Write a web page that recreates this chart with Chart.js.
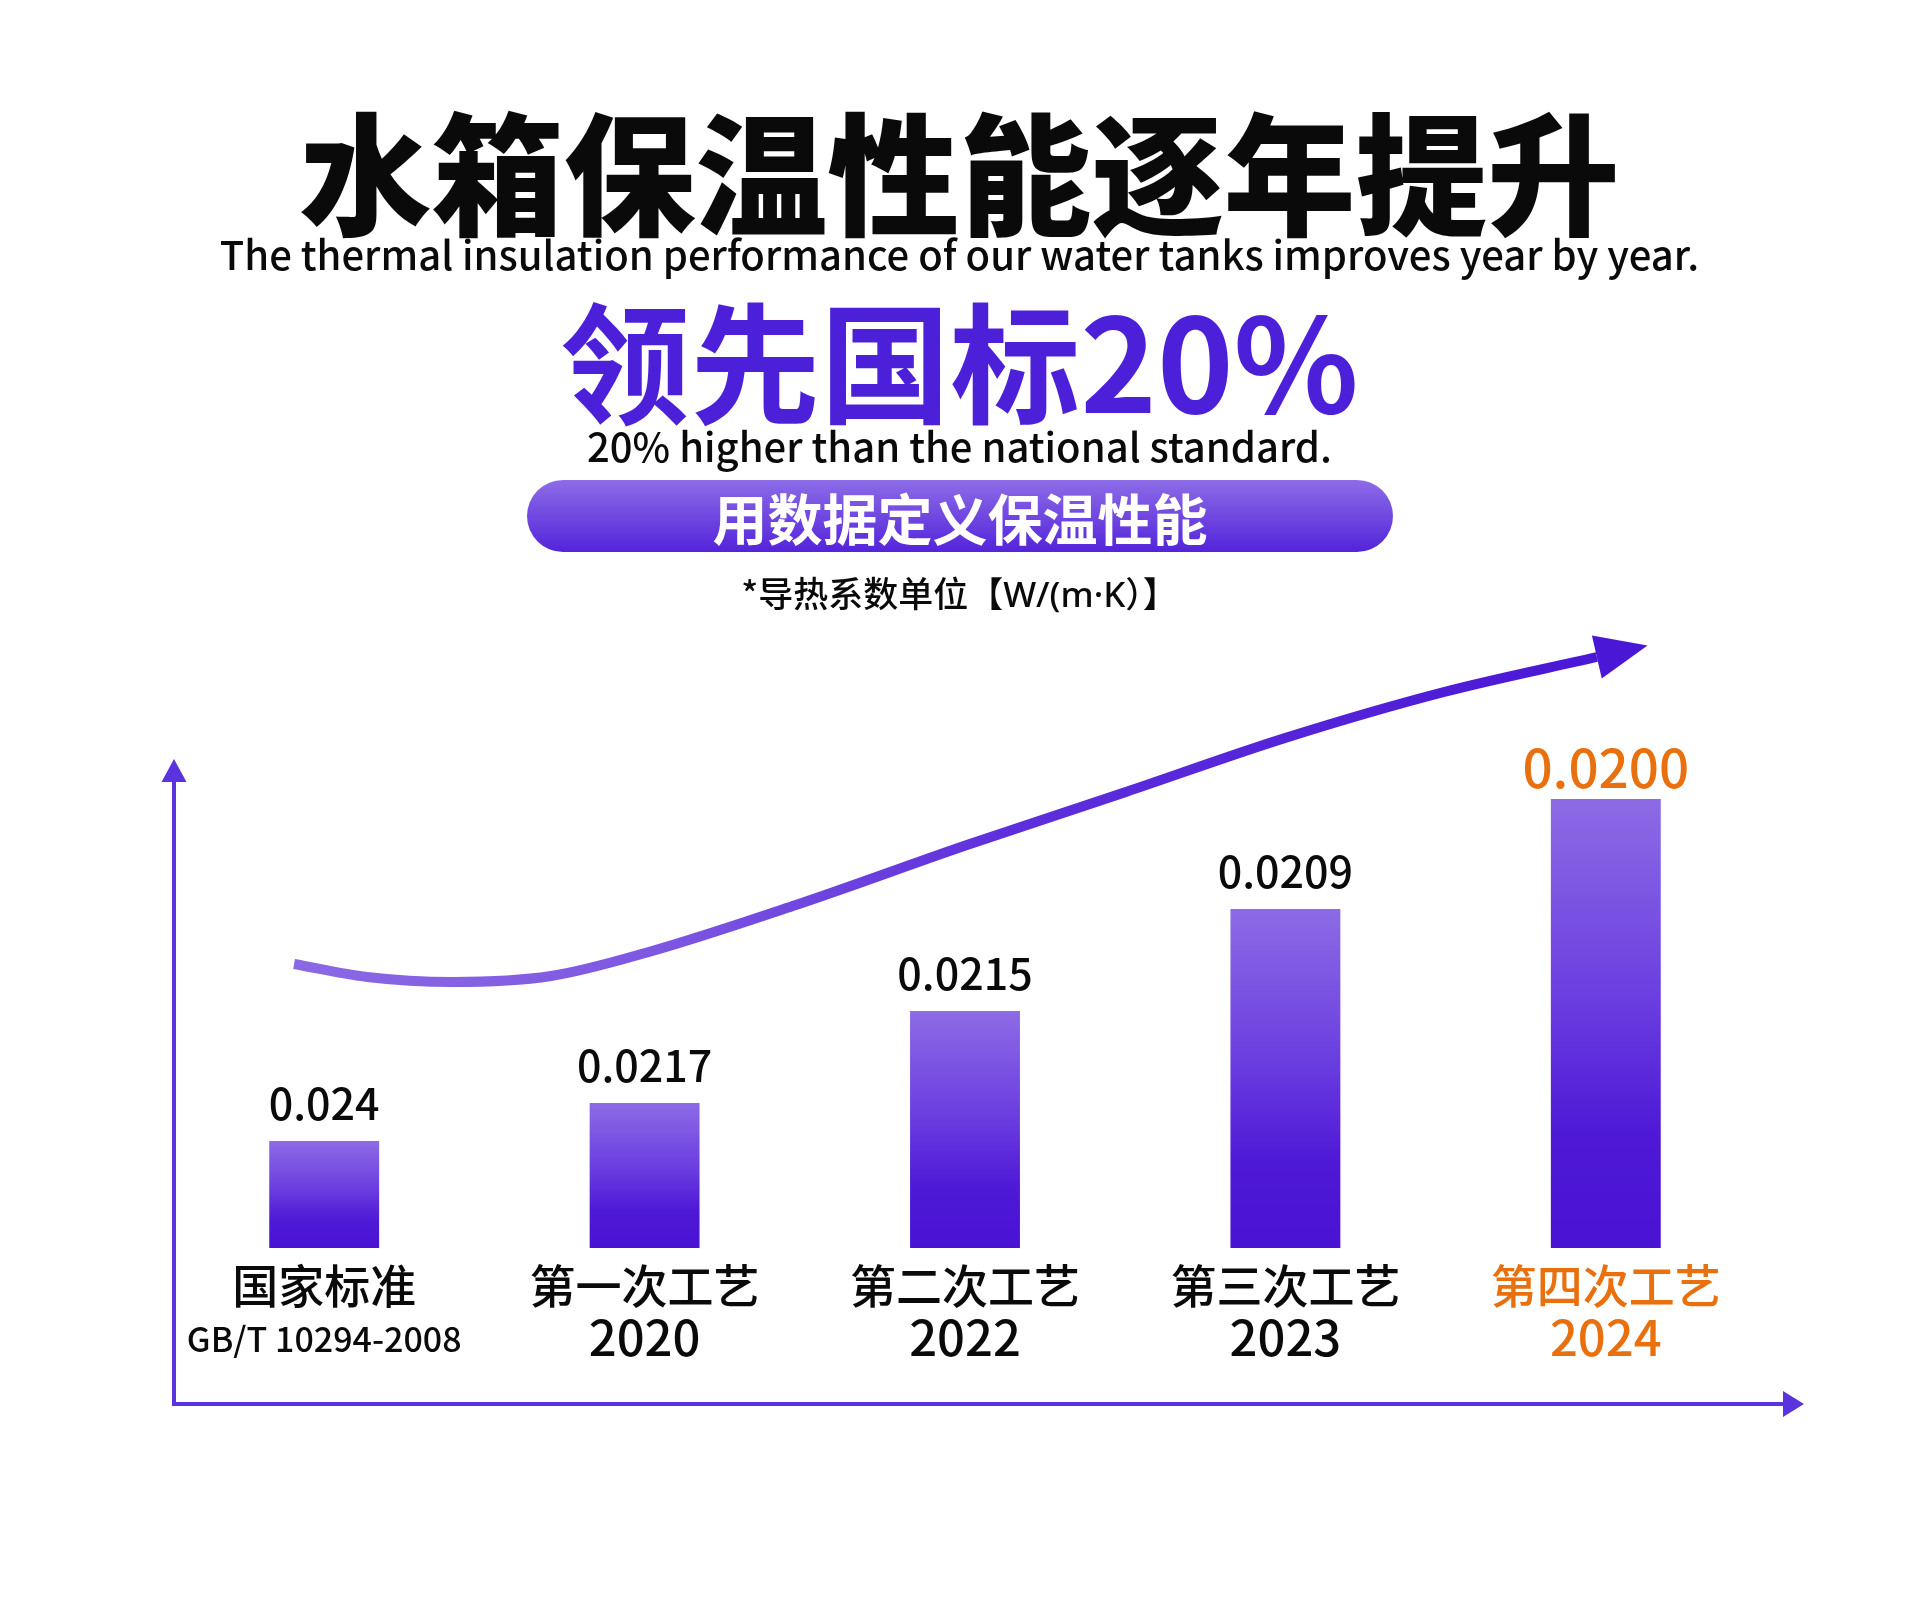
<!DOCTYPE html>
<html lang="zh-CN">
<head>
<meta charset="utf-8">
<title>水箱保温性能逐年提升</title>
<script src="https://cdn.jsdelivr.net/npm/chart.js@4.4.1/dist/chart.umd.min.js"></script>
<style>
  html, body { margin: 0; padding: 0; background: #fff; }
  body {
    width: 1919px; height: 1601px; position: relative; overflow: hidden;
    font-family: "Noto Sans CJK SC", "Noto Sans", sans-serif; color: #0a0a0a;
  }
  #chart { position: absolute; left: 0; top: 0; }
  .row { position: absolute; left: 0; width: 1919px; text-align: center; line-height: 1; white-space: nowrap; }
  #title { top: 102px; font-size: 132px; font-weight: 900; }
  #subtitle { top: 233px; font-size: 40px; font-weight: 500; }
  #lead { top: 291px; font-size: 130px; font-weight: 700; color: #4c1fd8; }
  #leadEn { top: 425px; font-size: 40px; font-weight: 500; }
  #pill {
    position: absolute; left: 527px; top: 480px; width: 866px; height: 72px;
    border-radius: 36px; background: linear-gradient(#8d6ce7, #5324da);
    color: #fff; font-size: 55px; font-weight: 700; line-height: 1;
    display: flex; align-items: center; justify-content: center;
  }
  #unit { top: 574px; font-size: 35px; font-weight: 500; }
  #unit span { font-family: "Noto Sans", sans-serif; }
</style>
</head>
<body>
<canvas id="chart" width="1919" height="1601"></canvas>
<div class="row" id="title">水箱保温性能逐年提升</div>
<div class="row" id="subtitle">The thermal insulation performance of our water tanks improves year by year.</div>
<div class="row" id="lead">领先国标20%</div>
<div class="row" id="leadEn">20% higher than the national standard.</div>
<div id="pill">用数据定义保温性能</div>
<div class="row" id="unit">*导热系数单位【<span>W/(m·K</span>）】</div>
<script>
const categoryNames = ["国家标准", "第一次工艺", "第二次工艺", "第三次工艺", "第四次工艺"];
const categorySubs = ["GB/T 10294-2008", "2020", "2022", "2023", "2024"];
// thermal conductivity shown above each bar
const conductivity = ["0.024", "0.0217", "0.0215", "0.0209", "0.0200"];
// bar heights as drawn (insulation level, arbitrary units)
const barLevels = [1.07, 1.45, 2.37, 3.39, 4.49];
// rising trend curve, x in category positions
const trendX = [-0.094, 0.134, 0.402, 0.708, 1.013, 1.472, 2.006, 2.502, 2.999, 3.495, 3.972];
const trendY = [2.84, 2.71, 2.66, 2.72, 2.96, 3.43, 4.03, 4.56, 5.10, 5.56, 5.91];

const INK = "#0a0a0a";
const ORANGE = "#e9700f";
const AXIS_COLOR = "#5b33de";
const FONT = '"Noto Sans CJK SC", "Noto Sans", sans-serif';

function barFill(context) {
    const chart = context.chart;
    const y = chart.scales.y;
    if (context.type !== "data" || !y || !chart.chartArea) return "#6a3de0";
    const top = y.getPixelForValue(context.raw);
    const bottom = y.getPixelForValue(0);
    const g = chart.ctx.createLinearGradient(0, top, 0, bottom);
    g.addColorStop(0, "#8d6be5");
    g.addColorStop(0.45, "#6a3de0");
    g.addColorStop(0.75, "#4e18d6");
    g.addColorStop(1, "#4a13d4");
    return g;
}

function curveStroke(context) {
    const chart = context.chart;
    const xt = chart.scales.xt;
    if (!xt || !chart.chartArea) return "#6a3de0";
    const x0 = xt.getPixelForValue(trendX[0]);
    const x1 = xt.getPixelForValue(trendX[trendX.length - 1]);
    const g = chart.ctx.createLinearGradient(x0, 0, x1, 0);
    g.addColorStop(0, "#8b69e4");
    g.addColorStop(0.27, "#7e58e2");
    g.addColorStop(0.55, "#5d2fdc");
    g.addColorStop(1, "#4a17d6");
    return g;
}

const decorPlugin = {
    id: "decor",
    beforeDatasetsDraw(chart) {
        const { ctx, chartArea: a } = chart;
        const ox = a.left + 10;
        const oy = a.bottom + 156;
        ctx.save();
        ctx.strokeStyle = AXIS_COLOR;
        ctx.fillStyle = AXIS_COLOR;
        ctx.lineWidth = 4;
        ctx.beginPath();
        ctx.moveTo(ox, oy + 2);
        ctx.lineTo(ox, a.top + 180);
        ctx.moveTo(ox - 2, oy);
        ctx.lineTo(a.right + 20, oy);
        ctx.stroke();
        // arrowheads
        ctx.beginPath();
        ctx.moveTo(ox, a.top + 161);
        ctx.lineTo(ox - 12.5, a.top + 184);
        ctx.lineTo(ox + 12.5, a.top + 184);
        ctx.closePath();
        ctx.fill();
        ctx.beginPath();
        ctx.moveTo(a.right + 38, oy);
        ctx.lineTo(a.right + 17, oy - 13);
        ctx.lineTo(a.right + 17, oy + 13);
        ctx.closePath();
        ctx.fill();
        ctx.restore();
    },
    afterDatasetsDraw(chart) {
        const { ctx, chartArea: a } = chart;
        ctx.save();
        ctx.textAlign = "center";
        ctx.textBaseline = "alphabetic";
        const bars = chart.getDatasetMeta(0).data;
        bars.forEach((bar, i) => {
            const last = i === bars.length - 1;
            ctx.fillStyle = last ? ORANGE : INK;
            ctx.font = (last ? "500 53px " : "500 43px ") + FONT;
            ctx.fillText(conductivity[i], bar.x, bar.y - (last ? 11 : 21));
            ctx.font = "500 46px " + FONT;
            ctx.fillText(categoryNames[i], bar.x, a.bottom + 55);
            ctx.font = (i === 0 ? "500 34px " : "500 49px ") + FONT;
            ctx.fillText(categorySubs[i], bar.x, a.bottom + (i === 0 ? 104 : 108));
        });

        // arrowhead at the end of the trend curve
        const pts = chart.getDatasetMeta(1).data;
        const end = pts[pts.length - 1];
        const prev = pts[pts.length - 2];
        let dx = end.x - (end.cp1x ?? prev.x);
        let dy = end.y - (end.cp1y ?? prev.y);
        const len = Math.hypot(dx, dy) || 1;
        dx /= len; dy /= len;
        const nx = -dy, ny = dx;
        ctx.fillStyle = "#4a17d6";
        ctx.beginPath();
        ctx.moveTo(end.x + dx * 52, end.y + dy * 52);
        ctx.lineTo(end.x + nx * 22, end.y + ny * 22);
        ctx.lineTo(end.x - nx * 22, end.y - ny * 22);
        ctx.closePath();
        ctx.fill();
        ctx.restore();
    }
};

const ctx = document.getElementById("chart").getContext("2d");
new Chart(ctx, {
    type: "bar",
    data: {
        labels: categoryNames,
        datasets: [
            {
                label: "保温性能",
                data: barLevels,
                backgroundColor: barFill,
                borderWidth: 0,
                grouped: false,
                barPercentage: 1,
                categoryPercentage: 0.343,
                order: 2
            },
            {
                type: "line",
                label: "趋势",
                data: trendX.map((x, i) => ({ x: x, y: trendY[i] })),
                xAxisID: "xt",
                yAxisID: "y",
                borderColor: curveStroke,
                borderWidth: 10,
                borderCapStyle: "butt",
                cubicInterpolationMode: "monotone",
                pointRadius: 0,
                fill: false,
                clip: false,
                order: 1
            }
        ]
    },
    options: {
        responsive: false,
        animation: false,
        events: [],
        layout: {
            padding: { left: 164, right: 153, top: 598, bottom: 353 }
        },
        plugins: {
            legend: { display: false },
            tooltip: { enabled: false }
        },
        scales: {
            x: { type: "category", display: false, offset: true },
            xt: { type: "linear", display: false, offset: false, bounds: "data", min: -0.5, max: 4.5 },
            y: { type: "linear", display: false, min: 0, max: 6.5 }
        }
    },
    plugins: [decorPlugin]
});
</script>
</body>
</html>
